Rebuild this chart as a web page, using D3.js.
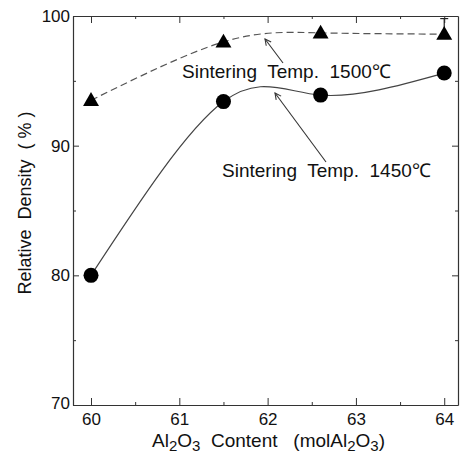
<!DOCTYPE html>
<html>
<head>
<meta charset="utf-8">
<script src="https://cdn.jsdelivr.net/npm/d3@7"></script>
<style>
  body { margin: 0; background: #fff; }
  svg text { font-family: "Liberation Sans", Arial, sans-serif; fill: #111; white-space: pre; }
</style>
</head>
<body>
<svg id="chart" width="460" height="459"></svg>
<script>
// data
const alContent = [60, 61.5, 62.6, 64];
const density1450 = [80.0, 93.4, 93.9, 95.6];
const density1500 = [93.5, 98.0, 98.7, 98.6];
const err1500 = [0, 0, 0, 1.2];   // only last triangle has a visible bar
const xTicks = [60, 61, 62, 63, 64];
const yTicks = [70, 80, 90, 100];

const svg = d3.select('#chart');
const margin = {left: 73, top: 16, right: 2, bottom: 54};
const width = 460, height = 459;

// scales
const x = d3.scaleLinear().domain([59.796, 64.156]).range([margin.left, width - margin.right]);
const y = d3.scaleLinear().domain([70, 100]).range([height - margin.bottom, margin.top]);

const xMinor = d3.range(60.5, 64, 1);
const yMinor = [75, 85, 95];

// frame + ticks (all inward)
function axisStyle(g) {
    g.selectAll('path').attr('stroke', '#333').attr('stroke-width', 1.2);
    g.selectAll('line').attr('stroke', '#333');
    g.selectAll('text').attr('font-size', 17).attr('fill', '#111');
}
svg.append('g').attr('transform', `translate(0,${y(70)})`)
    .call(d3.axisBottom(x).tickValues(xTicks).tickFormat(d3.format('d')).tickSizeInner(-7).tickSizeOuter(0).tickPadding(8))
    .call(axisStyle);
svg.append('g').attr('transform', `translate(0,${y(70)})`)
    .call(d3.axisBottom(x).tickValues(xMinor).tickSize(-3).tickFormat(''))
    .call(axisStyle).select('.domain').remove();
svg.append('g').attr('transform', `translate(0,${y(100)})`)
    .call(d3.axisTop(x).tickValues(xTicks).tickSizeInner(-7).tickSizeOuter(0).tickFormat(''))
    .call(axisStyle);
svg.append('g').attr('transform', `translate(0,${y(100)})`)
    .call(d3.axisTop(x).tickValues(xMinor).tickSize(-3).tickFormat(''))
    .call(axisStyle).select('.domain').remove();
svg.append('g').attr('transform', `translate(${x.range()[0]},0)`)
    .call(d3.axisLeft(y).tickValues(yTicks).tickSizeInner(-6).tickSizeOuter(0).tickPadding(3))
    .call(axisStyle);
svg.append('g').attr('transform', `translate(${x.range()[0]},0)`)
    .call(d3.axisLeft(y).tickValues(yMinor).tickSize(-3).tickFormat(''))
    .call(axisStyle).select('.domain').remove();
svg.append('g').attr('transform', `translate(${x.range()[1]},0)`)
    .call(d3.axisRight(y).tickValues(yTicks).tickSizeInner(-6).tickSizeOuter(0).tickFormat(''))
    .call(axisStyle);
svg.append('g').attr('transform', `translate(${x.range()[1]},0)`)
    .call(d3.axisRight(y).tickValues(yMinor).tickSize(-3).tickFormat(''))
    .call(axisStyle).select('.domain').remove();

// 70 label drops slightly below the corner in the figure
svg.selectAll('text').filter(function () { return this.textContent === '70'; }).attr('dy', '0.2em');

// curves
const line = d3.line().curve(d3.curveNatural).x(d => x(d[0])).y(d => y(d[1]));
const pts1450 = alContent.map((v, i) => [v, density1450[i]]);
const pts1500 = alContent.map((v, i) => [v, density1500[i]]);

svg.append('path').datum(pts1450).attr('d', line)
    .attr('fill', 'none').attr('stroke', '#444').attr('stroke-width', 1.2);
svg.append('path').datum(pts1500).attr('d', line)
    .attr('fill', 'none').attr('stroke', '#555').attr('stroke-width', 1.2)
    .attr('stroke-dasharray', '7,4');

// error bar on 1500 series
const errData = pts1500.map((d, i) => ({x: d[0], y: d[1], e: err1500[i]})).filter(d => d.e > 0);
errData.forEach(function (d) {
    svg.append('line').attr('x1', x(d.x)).attr('x2', x(d.x))
        .attr('y1', y(d.y)).attr('y2', y(d.y + d.e)).attr('stroke', '#222').attr('stroke-width', 1.2);
    svg.append('line').attr('x1', x(d.x) - 4).attr('x2', x(d.x) + 4)
        .attr('y1', y(d.y + d.e)).attr('y2', y(d.y + d.e)).attr('stroke', '#222').attr('stroke-width', 1.2);
});

// markers
svg.selectAll('.circ').data(pts1450).enter().append('circle')
    .attr('cx', d => x(d[0])).attr('cy', d => y(d[1])).attr('r', 7.5).attr('fill', '#000');
const tri = d3.symbol().type(d3.symbolTriangle).size(110);
svg.selectAll('.tri').data(pts1500).enter().append('path')
    .attr('d', tri).attr('transform', d => `translate(${x(d[0])},${y(d[1]) + 1})`).attr('fill', '#000');

// annotations with arrows
svg.append('defs').append('marker').attr('id', 'arr')
    .attr('viewBox', '0 0 10 10').attr('refX', 9).attr('refY', 5)
    .attr('markerWidth', 7).attr('markerHeight', 7).attr('orient', 'auto')
    .append('path').attr('d', 'M1,1 L9,5 L1,9').attr('fill', 'none').attr('stroke', '#333').attr('stroke-width', 1.4);

svg.append('line').attr('x1', 283).attr('y1', 63).attr('x2', 265).attr('y2', 39)
    .attr('stroke', '#333').attr('stroke-width', 1.1).attr('marker-end', 'url(#arr)');
svg.append('line').attr('x1', 326).attr('y1', 162).attr('x2', 275).attr('y2', 93)
    .attr('stroke', '#333').attr('stroke-width', 1.1).attr('marker-end', 'url(#arr)');

svg.append('text').attr('x', 182).attr('y', 78).attr('font-size', 19)
    .text('Sintering  Temp.  1500\u2103');
svg.append('text').attr('x', 222).attr('y', 177).attr('font-size', 19)
    .text('Sintering  Temp.  1450\u2103');

// axis titles
svg.append('text').attr('transform', 'translate(31,203) rotate(-90)')
    .attr('text-anchor', 'middle').attr('font-size', 18)
    .text('Relative  Density  ( % )');

const xt = svg.append('text').attr('x', 152).attr('y', 447).attr('font-size', 19);
xt.append('tspan').text('Al');
xt.append('tspan').attr('dy', 4).attr('font-size', 15).text('2');
xt.append('tspan').attr('dy', -4).text('O');
xt.append('tspan').attr('dy', 4).attr('font-size', 15).text('3');
xt.append('tspan').attr('dy', -4).text('  Content   (molAl');
xt.append('tspan').attr('dy', 4).attr('font-size', 15).text('2');
xt.append('tspan').attr('dy', -4).text('O');
xt.append('tspan').attr('dy', 4).attr('font-size', 15).text('3');
xt.append('tspan').attr('dy', -4).text(')');
</script>
</body>
</html>
